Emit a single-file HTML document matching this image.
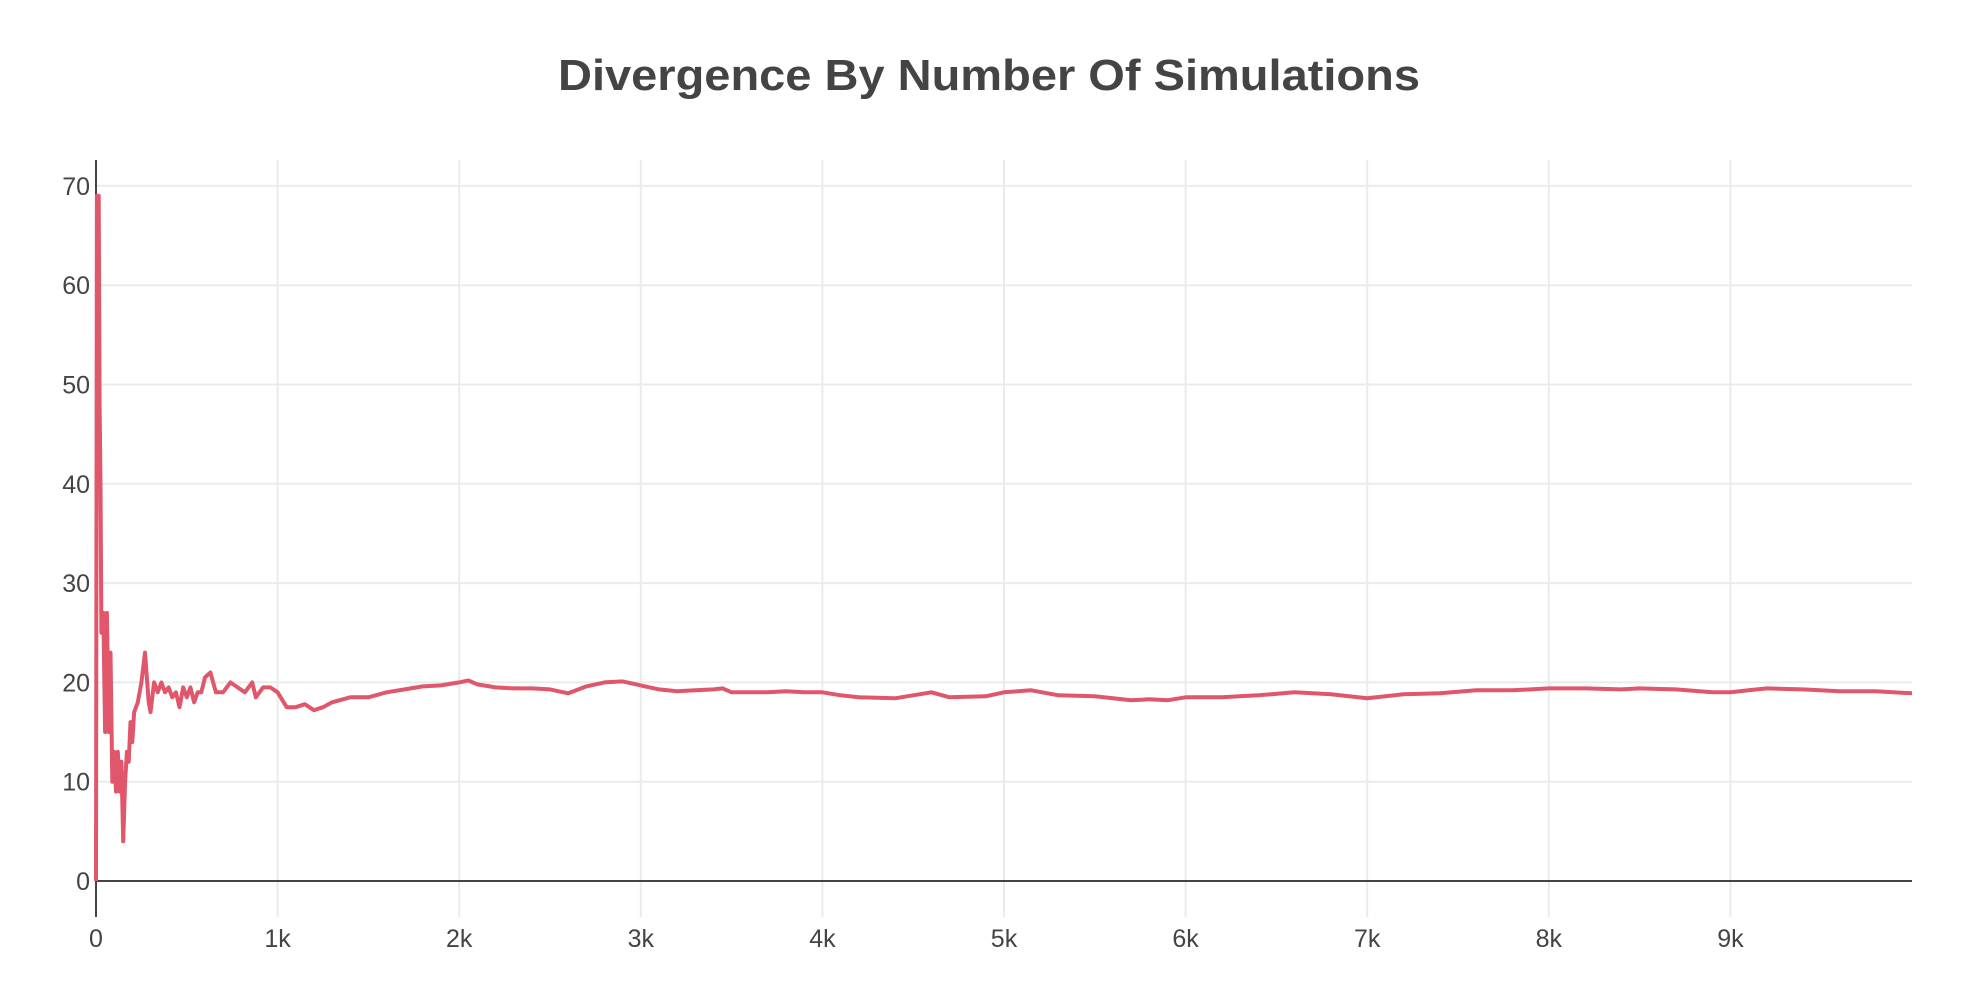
<!DOCTYPE html>
<html><head><meta charset="utf-8"><style>
html,body{margin:0;padding:0;background:#fff;}
svg{display:block;font-family:"Liberation Sans",sans-serif;}
</style></head><body>
<svg id="chart" width="1971" height="1008" viewBox="0 0 1971 1008">
<text x="989" y="90" text-anchor="middle" font-size="44" font-weight="bold" fill="#444" textLength="862" lengthAdjust="spacingAndGlyphs">Divergence By Number Of Simulations</text>
<g id="grid"></g>
<g id="axes"></g>
<g id="series"></g>
</svg>
<script>
const xTicks = [0,1000,2000,3000,4000,5000,6000,7000,8000,9000];
const xTickLabels = ["0","1k","2k","3k","4k","5k","6k","7k","8k","9k"];
const yTicks = [0,10,20,30,40,50,60,70];
const yTickLabels = ["0","10","20","30","40","50","60","70"];
const simCounts = [0,5,15,20,25,30,40,50,60,70,80,90,100,110,120,130,140,150,160,170,180,190,200,210,230,250,270,290,300,320,340,360,380,400,420,440,460,480,500,520,540,560,580,600,630,660,700,740,780,820,860,880,920,960,1000,1050,1100,1150,1200,1250,1300,1400,1500,1600,1700,1800,1900,2000,2050,2100,2200,2300,2400,2500,2600,2700,2800,2900,3000,3100,3200,3300,3400,3450,3500,3700,3800,3900,4000,4100,4200,4400,4500,4600,4700,4900,5000,5150,5300,5500,5700,5800,5900,6000,6200,6400,6600,6800,7000,7200,7400,7600,7800,8000,8200,8400,8500,8700,8900,9000,9100,9200,9400,9600,9800,10000];
const divergence = [0,69,69,48,40,25,27,15,27,15,23,10,13,9,13,9,12,4,10,13,12,16,14,17,18,20,23,18,17,20,19,20,19,19.5,18.5,19,17.5,19.5,18.5,19.5,18,19,19,20.5,21,19,19,20,19.5,19,20,18.5,19.5,19.5,19,17.5,17.5,17.8,17.2,17.5,18,18.5,18.5,19,19.3,19.6,19.7,20,20.2,19.8,19.5,19.4,19.4,19.3,18.9,19.6,20,20.1,19.7,19.3,19.1,19.2,19.3,19.4,19,19,19.1,19,19,18.7,18.5,18.4,18.7,19,18.5,18.6,19,19.2,18.7,18.6,18.2,18.3,18.2,18.5,18.5,18.7,19,18.8,18.4,18.8,18.9,19.2,19.2,19.4,19.4,19.3,19.4,19.3,19,19,19.2,19.4,19.3,19.1,19.1,18.9];

const X0=96, X1=1912, Y0=881, YPER10=99.3, TOP=160, BOT=917;
function xs(v){return X0+(v/10000)*(X1-X0);}
function ys(v){return Y0-v*YPER10/10;}
const NS="http://www.w3.org/2000/svg";
const grid=document.getElementById('grid'), axes=document.getElementById('axes'), series=document.getElementById('series');
function mk(tag,attrs,parent){const e=document.createElementNS(NS,tag);for(const k in attrs)e.setAttribute(k,attrs[k]);parent.appendChild(e);return e;}

xTicks.forEach((t,i)=>{
  if(t>0){const l=mk('line',{x1:xs(t),x2:xs(t),y1:TOP,y2:BOT,stroke:'#ebebeb','stroke-width':2},grid);
  
  }
  const tx=mk('text',{x:xs(t),y:947,'text-anchor':'middle','font-size':25,fill:'#444'},axes);
  tx.textContent=xTickLabels[i];
  
  
});
yTicks.forEach((t,i)=>{
  if(t>0){const l=mk('line',{x1:X0,x2:X1,y1:ys(t),y2:ys(t),stroke:'#ebebeb','stroke-width':2},grid);
  
  }
  const tx=mk('text',{x:90,y:ys(t)+9,'text-anchor':'end','font-size':25,fill:'#444'},axes);
  tx.textContent=yTickLabels[i];
  
  
});
const za=mk('line',{x1:X0,x2:X1,y1:ys(0),y2:ys(0),stroke:'#444','stroke-width':2},axes);


const ya=mk('line',{x1:X0,x2:X0,y1:TOP,y2:BOT,stroke:'#444','stroke-width':2},axes);



let d='';
simCounts.forEach((s,i)=>{d+=(i?'L':'M')+xs(s).toFixed(1)+','+ys(divergence[i]).toFixed(1);});
const p=mk('path',{d:d,fill:'none',stroke:'#e0566b','stroke-width':4,'stroke-linejoin':'round'},series);


</script>
</body></html>
